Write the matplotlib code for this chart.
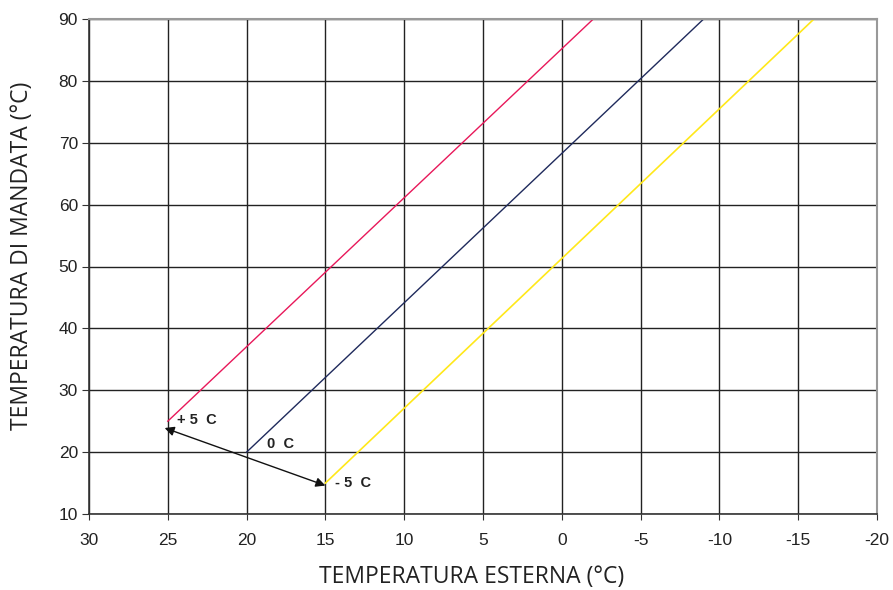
import matplotlib
matplotlib.use("Agg")
import matplotlib.pyplot as plt

# Data
series_names = ["+5 C", "0 C", "-5 C"]
x_plus5 = [25, -2]
y_plus5 = [25, 90]
x_zero = [20, -9]
y_zero = [20, 90]
x_minus5 = [15, -16]
y_minus5 = [15, 90]
arrow_start = (25.2, 23.9)
arrow_end = (15.0, 14.6)
xticks = [30, 25, 20, 15, 10, 5, 0, -5, -10, -15, -20]
yticks = [10, 20, 30, 40, 50, 60, 70, 80, 90]

fig = plt.figure(figsize=(8.93, 5.90), dpi=100)
ax = fig.add_axes([89/893, 1-514/590, (877-89)/893, (514-19)/590])

ax.set_xlim(30, -20)
ax.set_ylim(10, 90)
ax.set_xticks(xticks)
ax.set_yticks(yticks)
ax.set_xticklabels([str(t) for t in xticks], fontsize=12.5, family="Liberation Sans", color="#222222")
ax.set_yticklabels([str(t) for t in yticks], fontsize=12.5, family="Liberation Sans", color="#222222")
ax.grid(True, color="#222222", linewidth=1.0)
ax.set_axisbelow(True)
ax.tick_params(axis="x", direction="out", length=4, color="#333333", pad=10)
ax.tick_params(axis="y", direction="out", length=5, color="#333333", pad=3)

for s in ["top", "right"]:
    ax.spines[s].set_color("#999999")
    ax.spines[s].set_linewidth(1.5)
for s in ["left", "bottom"]:
    ax.spines[s].set_color("#333333")
    ax.spines[s].set_linewidth(1.2)

ax.plot(x_plus5, y_plus5, color="#E8185A", lw=1.0)
ax.plot(x_zero, y_zero, color="#1F2A5C", lw=1.0)
ax.plot(x_minus5, y_minus5, color="#FFE81A", lw=1.2)

ax.annotate("", xy=arrow_start, xytext=arrow_end,
            arrowprops=dict(arrowstyle="<|-|>", color="#111111", lw=1.0,
                            mutation_scale=14, shrinkA=0, shrinkB=0))

ax.text(24.4, 25.2, "+ 5  C", fontsize=10.5, fontweight="bold", family="Liberation Sans",
        ha="left", va="center", color="#222222")
ax.text(18.7, 21.3, "0  C", fontsize=10.5, fontweight="bold", family="Liberation Sans",
        ha="left", va="center", color="#222222")
ax.text(14.4, 15.0, "- 5  C", fontsize=10.5, fontweight="bold", family="Liberation Sans",
        ha="left", va="center", color="#222222")

ax.set_xlabel("TEMPERATURA ESTERNA (°C)", fontsize=16.5, family="Open Sans", fontweight="normal",
              color="#222222")
ax.set_ylabel("TEMPERATURA DI MANDATA (°C)", fontsize=16.5, family="Open Sans", fontweight="normal",
              color="#222222")
ax.xaxis.set_label_coords(0.486, -0.104)
ax.yaxis.set_label_coords(-0.070, 0.521)

fig.savefig("out.png", dpi=100)
